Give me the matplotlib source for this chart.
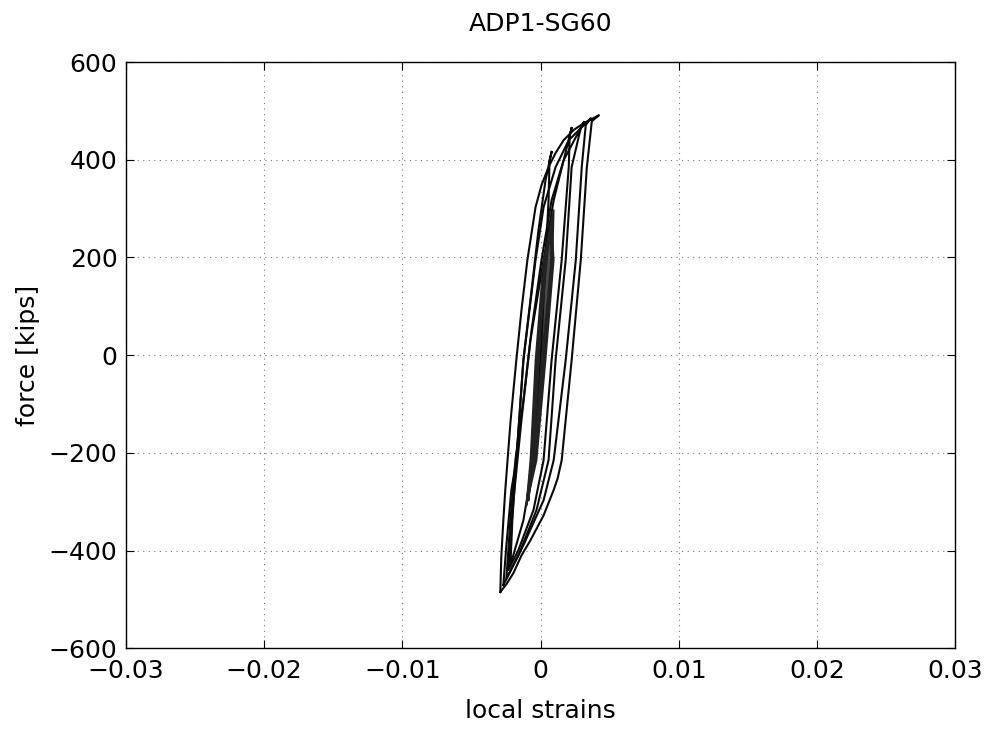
import numpy as np
import matplotlib
matplotlib.use("Agg")
from matplotlib import pyplot as plt

# loop A (outermost cycle): reloading branch then unloading branch
loopA_eps = [-0.00291, -0.00284, -0.00269, -0.00255, -0.00218, -0.00196, -0.00175, -0.00138, -0.00095, -0.00065,
             -0.00036, 0.00007, 0.00058, 0.00109, 0.00167, 0.00240, 0.00313, 0.00422,
             0.00371, 0.00335, 0.00291, 0.00225, 0.00153, 0.00124, 0.00095, 0.00022, -0.00073, -0.00138,
             -0.00196, -0.00247, -0.00291]
loopA_kips = [-485, -414, -338, -276, -139, -72, -10, 92, 195, 250,
              303, 348, 385, 414, 440, 461, 475, 491,
              479, 385, 195, -10, -215, -252, -276, -328, -379, -410,
              -446, -469, -485]

loopB_eps = [-0.00269, -0.00247, -0.00211, -0.00175, -0.00124, -0.00036, 0.00022, 0.00109, 0.00204, 0.00364,
             0.00327, 0.00298, 0.00255, 0.00182, 0.00095, 0.00022, -0.00124, -0.00269]
loopB_kips = [-471, -389, -276, -215, -10, 195, 303, 385, 440, 485,
              471, 385, 195, -10, -215, -297, -389, -471]

loopC_eps = [0.00313, 0.00291, 0.00225, 0.00182, 0.00109, 0.00058, -0.00029, -0.00160, -0.00247,
             -0.00218, -0.00182, -0.00124, -0.00065, 0.00007, 0.00080, 0.00167, 0.00313]
loopC_kips = [477, 465, 385, 195, -10, -215, -317, -410, -457,
              -338, -215, -92, 51, 195, 317, 399, 477]

loopD_eps = [0.00225, 0.00211, 0.00204, 0.00153, 0.00080, 0.00022, -0.00051, -0.00160, -0.00233,
             -0.00196, -0.00138, -0.00073, 0.00022, 0.00095, 0.00225]
loopD_kips = [465, 451, 385, 195, -10, -215, -317, -399, -440,
              -297, -133, 31, 195, 317, 465]

loopE_eps = [0.00080, 0.00065, 0.00058, 0.00036, 0.00000, -0.00051, -0.00124, -0.00218,
             -0.00204, -0.00175, -0.00124, -0.00073, -0.00015, 0.00036, 0.00080]
loopE_kips = [416, 399, 317, 195, -10, -215, -338, -430,
              -338, -215, -10, 113, 256, 358, 416]

# small elastic cycles (dense band)
s1_eps = [-0.00102, -0.00073, -0.00036, 0.00022, 0.00080, 0.00095, 0.00036, -0.00029, -0.00102]
s1_kips = [-307, -215, -10, 195, 266, 195, -10, -215, -307]
s2_eps = [-0.00080, -0.00058, -0.00022, 0.00036, 0.00073, 0.00080, 0.00022, -0.00036, -0.00080]
s2_kips = [-256, -215, -10, 195, 246, 195, -10, -215, -256]
s3_eps = [-0.00095, -0.00065, -0.00029, 0.00029, 0.00087, 0.00087, 0.00029, -0.00044, -0.00095]
s3_kips = [-287, -215, -10, 195, 276, 195, -10, -215, -287]
s4_eps = [-0.00087, -0.00051, -0.00007, 0.00051, 0.00095, 0.00087, 0.00015, -0.00044, -0.00087]
s4_kips = [-297, -174, 31, 235, 297, 215, 10, -195, -297]
s5_eps = [-0.00073, -0.00044, 0.00000, 0.00058, 0.00087, 0.00073, 0.00015, -0.00036, -0.00073]
s5_kips = [-266, -154, 51, 235, 266, 174, -31, -174, -266]

x_ticks = [-0.03, -0.02, -0.01, 0, 0.01, 0.02, 0.03]
x_labels = ["\u22120.03", "\u22120.02", "\u22120.01", "0", "0.01", "0.02", "0.03"]
y_ticks = [-600, -400, -200, 0, 200, 400, 600]

plt.rcParams["font.family"] = ["DejaVu Sans"]

fig = plt.figure(figsize=(9.9, 7.3), dpi=100)
ax = fig.add_axes([0.127, 0.112, 0.838, 0.803])

# shaded band of many small cycles
ax.fill(s1_eps, s1_kips, color="#4a4a4a", lw=0)

loops = [(loopA_eps, loopA_kips), (loopB_eps, loopB_kips), (loopC_eps, loopC_kips),
         (loopD_eps, loopD_kips), (loopE_eps, loopE_kips)]
for e, k in loops:
    ax.plot(e, k, color="#0a0a0a", lw=1.5)

band = [(s1_eps, s1_kips), (s2_eps, s2_kips), (s3_eps, s3_kips), (s4_eps, s4_kips), (s5_eps, s5_kips)]
for e, k in band:
    ax.plot(e, k, color="#222222", lw=1.3)

ax.set_xlim(-0.03, 0.03)
ax.set_ylim(-600, 600)
ax.set_xticks(x_ticks)
ax.set_xticklabels(x_labels)
ax.set_yticks(y_ticks)
ax.set_yticklabels([str(v).replace("-", "\u2212") for v in y_ticks])
ax.tick_params(axis="both", direction="in", top=True, right=True, labelsize=18, length=6)
ax.tick_params(axis="x", pad=8)
ax.tick_params(axis="y", pad=6)
ax.grid(True, linestyle=(0, (1, 4)), color="#777777", lw=0.8)
for s in ax.spines.values():
    s.set_linewidth(1.0)

ax.set_title("ADP1-SG60", fontsize=18, pad=22)
ax.set_xlabel("local strains", fontsize=18, labelpad=11)
ax.set_ylabel("force [kips]", fontsize=18, labelpad=6)

fig.savefig("out.png", dpi=100)
